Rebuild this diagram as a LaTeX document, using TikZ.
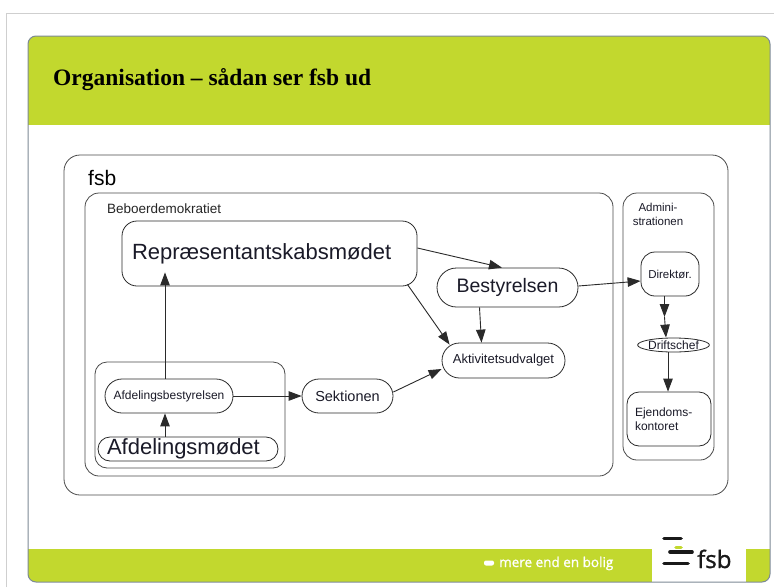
\documentclass[tikz,border=0pt]{standalone}
\usepackage{fontspec}
\setmainfont{Liberation Sans}
\newfontfamily\titlefont{Liberation Serif}
\newfontfamily\footfont[FakeBold=1.2]{Open Sans}
\usetikzlibrary{arrows.meta,shapes.geometric,calc}
\definecolor{fsbgreen}{HTML}{C2D82E}
\definecolor{linec}{HTML}{2A2A2A}
\definecolor{framec}{HTML}{4A4A4A}
\definecolor{txt}{HTML}{1A1A28}
\definecolor{cardc}{HTML}{7D8A96}
\definecolor{pagec}{HTML}{CFCFCF}
\begin{document}
\begin{tikzpicture}[x=1pt,y=-1pt,
  box/.style={draw=linec, line width=0.8pt, inner sep=0pt, text=txt},
  container/.style={draw=framec, line width=0.8pt, inner sep=0pt},
  arr/.style={draw=linec, line width=0.9pt, -{Triangle[length=13pt,width=9.5pt]}},
  fbig/.style={font=\fontsize{22}{26}\selectfont},
  fmid/.style={font=\fontsize{19.5}{23}\selectfont},
  fsmall/.style={font=\fontsize{12}{14.5}\selectfont},
]
\useasboundingbox (0,0) rectangle (774,587);
\fill[white] (0,0) rectangle (774,587);
% page frame
\draw[pagec, line width=1pt] (6.5,587) -- (6.5,13) -- (774,13);
% card
\begin{scope}
  \clip[rounded corners=8pt] (28,36) rectangle (770,582);
  \fill[fsbgreen] (28,36) rectangle (770,125);
  \fill[fsbgreen] (28,549) rectangle (652,582);
  \fill[fsbgreen] (746,549) rectangle (770,582);
\end{scope}
\draw[cardc, line width=1pt, rounded corners=8pt] (28,36) rectangle (770,582);
% title
\node[anchor=base west, inner sep=0pt, font=\titlefont\bfseries\fontsize{23.5}{27}\selectfont] (title) at (53,85) {Organisation – sådan ser fsb ud};
% footer
\fill[white, rounded corners=2pt] (484,560.5) rectangle (494,565.5);
\node[anchor=base west, inner sep=0pt, text=white, font=\footfont\fontsize{13.5}{16}\selectfont] (slogan) at (499,567) {mere end en bolig};
% logo
\begin{scope}[line width=3.6pt, line cap=round]
  \draw[black!90] (664,538.5) -- (681,538.5);
  \draw[fsbgreen] (676,547.5) -- (681,547.5);
  \draw[black!90] (670,552) -- (692,552);
  \draw[black!90] (664,563.5) -- (688,563.5);
\end{scope}
\node[anchor=base west, inner sep=0pt, text=black!90, font=\footfont\fontsize{24}{28}\selectfont] (logo) at (697,568) {fsb};

% containers
\node[container, rounded corners=16pt, minimum width=664pt, minimum height=340pt] (fsbbox) at (396,325) {};
\node[anchor=base west, inner sep=0pt, font=\fontsize{21}{25}\selectfont] (fsblabel) at (88,185) {fsb};
\node[container, rounded corners=14pt, minimum width=528pt, minimum height=283pt] (beboer) at (349,334.5) {};
\node[anchor=base west, inner sep=0pt, text=black!85, font=\fontsize{13.5}{16}\selectfont] (beboerlabel) at (107,213) {Beboerdemokratiet};
\node[container, rounded corners=14pt, minimum width=91pt, minimum height=267pt] (admin) at (668.5,326.5) {};
\node[inner sep=0pt, align=center, text=txt, font=\fontsize{11.5}{14}\selectfont] (adminlabel) at (658,214) {Admini-\\strationen};
\node[container, rounded corners=12pt, minimum width=190pt, minimum height=106pt] (afdbox) at (190,415) {};

% nodes
\node[box, fbig, rounded corners=15pt, minimum width=295pt, minimum height=65pt, inner xsep=10pt, text width=275pt, align=left] (repr) at (269.5,253.5) {Repræsentantskabsmødet};
\node[box, fmid, rounded corners=19.5pt, minimum width=141pt, minimum height=39pt] (best) at (507.5,287.5) {Bestyrelsen};
\node[box, font=\fontsize{13}{15}\selectfont, rounded corners=17.5pt, minimum width=123pt, minimum height=35pt] (akt) at (503.5,360.5) {Aktivitetsudvalget};
\node[box, fsmall, rounded corners=17pt, minimum width=128pt, minimum height=34pt] (afdbest) at (169,396) {Afdelingsbestyrelsen};
\node[box, fbig, rounded corners=12pt, minimum width=180pt, minimum height=24pt, inner xsep=9pt, text width=162pt, align=left] (afdmoedet) at (188,449) {Afdelingsmødet};
\node[box, font=\fontsize{14.5}{17}\selectfont, rounded corners=17pt, minimum width=91pt, minimum height=34pt] (sekt) at (347.5,396) {Sektionen};
\node[box, font=\fontsize{11.5}{14}\selectfont, rounded corners=14pt, minimum width=58pt, minimum height=44pt] (dir) at (670,274) {Direktør.};
\node[box, ellipse, fsmall, minimum width=65pt, minimum height=14pt] (drift) at (673.5,345) {Driftschef};
\node[box, fsmall, rounded corners=12pt, minimum width=84pt, minimum height=54pt, inner xsep=8pt, text width=68pt, align=left] (ejend) at (669,419) {Ejendoms-\\kontoret};

% helper coordinates
\coordinate (acol) at (165,0);
\coordinate (ecol) at (668,0);
\coordinate (dmid) at (664.5,317);

% connectors
\draw[arr, shorten >=-14pt] (afdbest.north -| acol) -- (repr.south -| acol);
\draw[arr] (afdmoedet.north -| acol) -- (afdbest.south -| acol);
\draw[arr] (afdbest.east) -- (sekt.west);
\draw[arr] ([yshift=4pt]sekt.east) -- ([yshift=-8.5pt]akt.west);
\draw[arr] ([yshift=5.5pt]repr.east) -- ([xshift=-5.5pt]best.north);
\draw[arr] ([xshift=-10pt,yshift=2pt]repr.south east) -- ([xshift=8pt,yshift=-2pt]akt.north west);
\draw[arr] ([xshift=-28pt]best.south) -- ([xshift=-22pt]akt.north);
\draw[arr] ([yshift=1.5pt]best.east) -- ([yshift=-7pt]dir.west);
\draw[arr] ([xshift=-5.5pt]dir.south) -- (dmid);
\draw[arr] (dmid) -- ([xshift=-7.5pt]drift.north);
\draw[arr] (drift.south -| ecol) -- (ejend.north -| ecol);
\end{tikzpicture}
\end{document}
